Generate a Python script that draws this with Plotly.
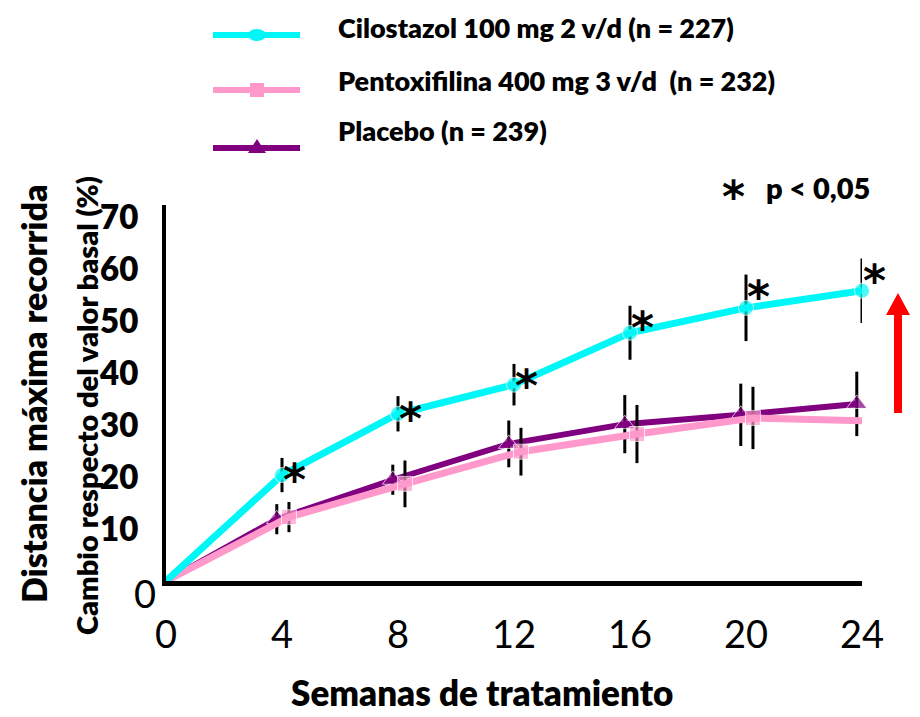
import plotly.graph_objects as go

# ---- data -------------------------------------------------------------
weeks = [0, 4, 8, 12, 16, 20, 24]

cilostazol = [0, 20.4, 32.2, 37.8, 47.8, 52.6, 55.9]
cilostazol_err = [0, 3.3, 3.4, 4.0, 5.2, 6.4, 6.2]

pentoxifilina = [0, 12.3, 18.7, 24.9, 28.3, 31.4, 30.8]
pentoxifilina_err = [0, 2.9, 4.5, 4.6, 5.6, 6.0, 6.1]

placebo = [0, 11.9, 19.5, 26.4, 30.2, 32.0, 34.1]
placebo_err = [0, 2.9, 2.9, 4.5, 5.6, 6.0, 6.2]

series_names = [
    "Cilostazol 100 mg 2 v/d (n = 227)",
    "Pentoxifilina 400 mg 3 v/d  (n = 232)",
    "Placebo (n = 239)",
]
significant = [False, True, True, True, True, True, True]

y_ticks = [10, 20, 30, 40, 50, 60, 70]
x_ticks = [0, 4, 8, 12, 16, 20, 24]

# ---- styling ------------------------------------------------------------
CYAN = "#00F7F7"
PINK = "#FF99CC"
PURPLE = "#800080"
FONT = "Lato"
HEAVY = 800

W_FIG, H_FIG = 920, 717
L, R, T, B = 166, 58, 205, 136
PW = W_FIG - L - R
PH = H_FIG - T - B
Y_MAX = 72.4


def fx(px):
    """figure pixel x -> paper x"""
    return (px - L) / PW


def fy(py):
    """figure pixel y -> paper y"""
    return (H_FIG - B - py) / PH


def shifted(xs, off):
    return [x + off if x > 0 else x for x in xs]


def marker_sizes(xs, size):
    return [0 if x == 0 else size for x in xs]


fig = go.Figure()

fig.add_trace(go.Scatter(
    x=shifted(weeks, -0.18), y=placebo, mode="lines+markers",
    line=dict(color=PURPLE, width=6),
    marker=dict(symbol="triangle-up", size=marker_sizes(weeks, 18), color=PURPLE),
    error_y=dict(type="data", array=placebo_err, color="black", thickness=3, width=0),
    cliponaxis=False, showlegend=False,
))
fig.add_trace(go.Scatter(
    x=shifted(weeks, 0.24), y=pentoxifilina, mode="lines+markers",
    line=dict(color=PINK, width=7),
    marker=dict(symbol="square", size=marker_sizes(weeks, 15), color=PINK),
    error_y=dict(type="data", array=pentoxifilina_err, color="black", thickness=3, width=0),
    cliponaxis=False, showlegend=False,
))
fig.add_trace(go.Scatter(
    x=weeks, y=cilostazol, mode="lines+markers",
    line=dict(color=CYAN, width=7),
    marker=dict(symbol="circle", size=marker_sizes(weeks, 15), color=CYAN),
    error_y=dict(type="data", array=cilostazol_err, color="black", thickness=3, width=0),
    cliponaxis=False, showlegend=False,
))

annotations = []
STAR_FONT = dict(family="DejaVu Sans", size=44, color="black", weight="bold")

# significance asterisks at the top of each cilostazol error bar
for w, v, e, s in zip(weeks, cilostazol, cilostazol_err, significant):
    if s:
        annotations.append(dict(
            x=w, y=v + e, xref="x", yref="y", text="*", showarrow=False,
            xanchor="center", yanchor="middle", xshift=12, yshift=-22,
            font=STAR_FONT,
        ))

# y "0" label sits just below the axis corner
annotations.append(dict(
    x=fx(145), y=0, xref="paper", yref="y", text="0", showarrow=False,
    xanchor="center", yanchor="middle", yshift=-12,
    font=dict(family=FONT, size=38, color="black"),
))

# axis titles
annotations.append(dict(
    x=fx(33), y=fy(394), xref="paper", yref="paper", text="Distancia máxima recorrida",
    textangle=-90, showarrow=False, xanchor="center", yanchor="middle",
    font=dict(family=FONT, size=34, color="black", weight=HEAVY),
))
annotations.append(dict(
    x=fx(86), y=fy(406), xref="paper", yref="paper",
    text="Cambio respecto del valor basal (%)",
    textangle=-90, showarrow=False, xanchor="center", yanchor="middle",
    font=dict(family=FONT, size=29, color="black", weight=HEAVY),
))
annotations.append(dict(
    x=fx(482), y=fy(692), xref="paper", yref="paper", text="Semanas de tratamiento",
    showarrow=False, xanchor="center", yanchor="middle",
    font=dict(family=FONT, size=35, color="black", weight=HEAVY),
))

# legend key
legend_y = [35, 90, 148]
text_y = [27, 80, 131]
colors = [CYAN, PINK, PURPLE]
shapes = []
for name, ly, ty, c in zip(series_names, legend_y, text_y, colors):
    annotations.append(dict(
        x=fx(336), y=fy(ty), xref="paper", yref="paper", text=name,
        showarrow=False, xanchor="left", yanchor="middle",
        font=dict(family=FONT, size=27, color="black", weight=HEAVY),
    ))
    shapes.append(dict(type="line", xref="paper", yref="paper",
                       x0=fx(213), x1=fx(300), y0=fy(ly), y1=fy(ly),
                       line=dict(color=c, width=6)))

mx = 257
shapes.append(dict(type="circle", xref="paper", yref="paper",
                   x0=fx(mx - 9), x1=fx(mx + 9), y0=fy(legend_y[0] + 6), y1=fy(legend_y[0] - 6),
                   fillcolor=CYAN, line=dict(width=0)))
shapes.append(dict(type="rect", xref="paper", yref="paper",
                   x0=fx(mx - 7), x1=fx(mx + 7), y0=fy(legend_y[1] + 7), y1=fy(legend_y[1] - 7),
                   fillcolor=PINK, line=dict(width=0)))
ty_ = legend_y[2]
shapes.append(dict(type="path", xref="paper", yref="paper",
                   path=f"M {fx(mx - 9)},{fy(ty_ + 5)} L {fx(mx + 9)},{fy(ty_ + 5)} L {fx(mx)},{fy(ty_ - 9)} Z",
                   fillcolor=PURPLE, line=dict(width=0)))

# p-value note
annotations.append(dict(
    x=fx(733), y=fy(187), xref="paper", yref="paper", text="*", showarrow=False,
    xanchor="center", yanchor="middle", yshift=-9,
    font=STAR_FONT,
))
annotations.append(dict(
    x=fx(764), y=fy(187), xref="paper", yref="paper", text="p < 0,05", showarrow=False,
    xanchor="left", yanchor="middle",
    font=dict(family=FONT, size=29, color="black", weight=HEAVY),
))

# red improvement arrow
ax_c, a_bot, a_base, a_tip = 898, 413, 315, 293
shapes.append(dict(
    type="path", xref="paper", yref="paper",
    path=(f"M {fx(ax_c - 4)},{fy(a_bot)} L {fx(ax_c + 4)},{fy(a_bot)} "
          f"L {fx(ax_c + 4)},{fy(a_base)} L {fx(ax_c + 12)},{fy(a_base)} "
          f"L {fx(ax_c)},{fy(a_tip)} L {fx(ax_c - 12)},{fy(a_base)} "
          f"L {fx(ax_c - 4)},{fy(a_base)} Z"),
    fillcolor="#FF0000", line=dict(width=0),
))

fig.update_layout(
    width=W_FIG, height=H_FIG,
    margin=dict(l=L, r=R, t=T, b=B, pad=0),
    paper_bgcolor="white", plot_bgcolor="white",
    annotations=annotations, shapes=shapes,
    showlegend=False,
)
fig.update_xaxes(
    range=[0, 24], tickvals=x_ticks, ticktext=[str(t) for t in x_ticks],
    showgrid=False, zeroline=False, showline=True, linecolor="black", linewidth=5,
    ticks="", ticklabelstandoff=16,
    tickfont=dict(family=FONT, size=38, color="black"),
)
fig.update_yaxes(
    range=[0, Y_MAX], tickvals=y_ticks, ticktext=[str(t) for t in y_ticks],
    showgrid=False, zeroline=False, showline=True, linecolor="black", linewidth=4,
    ticks="", ticklabelstandoff=17,
    tickfont=dict(family=FONT, size=33, color="black", weight=HEAVY),
)

fig.write_html("out.html")
